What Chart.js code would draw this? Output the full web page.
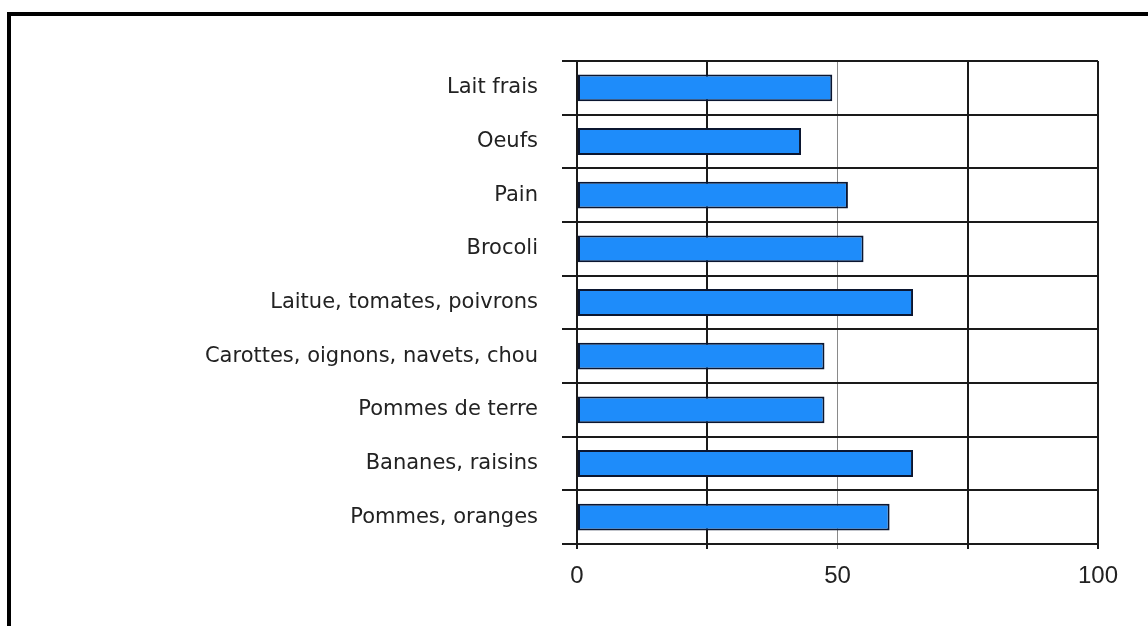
<!DOCTYPE html>
<html>
<head>
<meta charset="utf-8">
<script src="https://cdn.jsdelivr.net/npm/chart.js@4/dist/chart.umd.min.js"></script>
<style>
	body { margin: 0; background: #fff; overflow: hidden; }
	#frame {
		position: absolute; left: 7px; top: 12px; right: -10px; bottom: -10px;
		border-left: 4px solid #000; border-top: 4px solid #000;
	}
	#wrap { position: absolute; left: 0; top: 0; width: 1148px; height: 626px; }
</style>
</head>
<body>
<div id="frame"></div>
<div id="wrap"><canvas id="myChart" width="1148" height="626"></canvas></div>
<script>
// aliments et pourcentages
var labels = [
	"Lait frais",
	"Oeufs",
	"Pain",
	"Brocoli",
	"Laitue, tomates, poivrons",
	"Carottes, oignons, navets, chou",
	"Pommes de terre",
	"Bananes, raisins",
	"Pommes, oranges"
];
var values = [49, 43, 52, 55, 64.5, 47.5, 47.5, 64.5, 60];
var xTicks = [0, 50, 100];

var ctx = document.getElementById("myChart").getContext("2d");
var chart = new Chart(ctx, {
	type: "bar",
	data: {
		labels: labels,
		datasets: [{
			data: values,
			backgroundColor: "#1E8CFA",
			borderColor: "#0b1630",
			borderWidth: 2,
			borderSkipped: false,
			barPercentage: 0.5,
			categoryPercentage: 1
		}]
	},
	options: {
		indexAxis: "y",
		responsive: false,
		animation: false,
		layout: { padding: { left: 20, right: 50, top: 61, bottom: 22 } },
		plugins: { legend: { display: false }, tooltip: { enabled: false } },
		scales: {
			x: {
				min: 0,
				max: 100,
				ticks: {
					stepSize: 25,
					padding: 13,
					color: "#222",
					font: { family: "'Liberation Sans', Arial, sans-serif", size: 24 },
					maxRotation: 0,
					callback: function(v) { return xTicks.indexOf(v) >= 0 ? String(v) : ""; }
				},
				grid: {
					color: function(c) { return c.tick && c.tick.value === 50 ? "#8a8a8a" : "#1a1a1a"; },
					lineWidth: function(c) { return c.tick && c.tick.value === 50 ? 1 : 2; },
					tickLength: 5
				},
				border: { color: "#1a1a1a", width: 2 },
				afterFit: function(s) { s.height = 60; }
			},
			y: {
				ticks: {
					padding: 24,
					color: "#222",
					font: { family: "'DejaVu Sans', sans-serif", size: 21 }
				},
				grid: {
					offset: true,
					color: "#1a1a1a",
					lineWidth: 2,
					tickLength: 15
				},
				border: { color: "#1a1a1a", width: 2 },
				afterFit: function(s) { s.width = 557; }
			}
		}
	}
});
</script>
</body>
</html>
